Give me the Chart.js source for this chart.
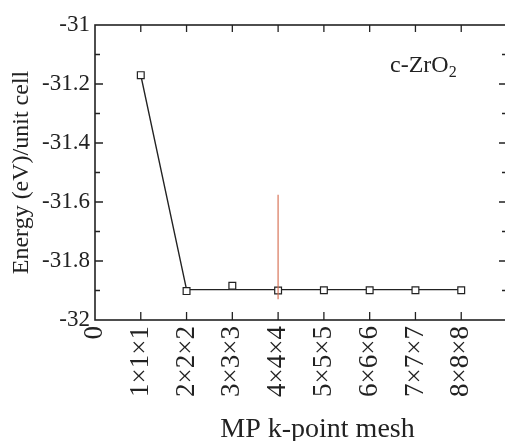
<!DOCTYPE html>
<html>
<head>
<meta charset="utf-8">
<script src="https://cdn.jsdelivr.net/npm/chart.js@4.4.1/dist/chart.umd.min.js"></script>
<style>
  html, body { margin: 0; padding: 0; overflow: hidden; background: #fff; }
  #wrap { width: 520px; height: 441px; }
</style>
</head>
<body>
<div id="wrap"><canvas id="convChart"></canvas></div>
<script>
// k-point meshes and total energies (eV per unit cell)
const meshLabels = ['1×1×1', '2×2×2', '3×3×3', '4×4×4', '5×5×5', '6×6×6', '7×7×7', '8×8×8'];
const meshIndex = [1, 2, 3, 4, 5, 6, 7, 8];
const energy = [-31.17, -31.902, -31.884, -31.9, -31.899, -31.899, -31.899, -31.899];
// connecting curve
const curveEnergy = [-31.17, -31.897, -31.897, -31.897, -31.897, -31.897, -31.897, -31.897];
// marker for the chosen mesh
const chosenMesh = [4, 4];
const chosenRange = [-31.575, -31.93];

const SERIF = "'Liberation Serif', 'Times New Roman', serif";
const INK = '#222';

const toPoints = (xs, ys) => xs.map((x, i) => ({ x: x, y: ys[i] }));

// inward ticks, box frame and the text inside/below the plot
const framePlugin = {
    id: 'frame',
    afterDraw(chart) {
        const { ctx, chartArea: a, scales } = chart;
        const x = scales.x, y = scales.y;
        ctx.save();
        ctx.strokeStyle = INK;
        ctx.lineWidth = 1.6;
        ctx.strokeRect(a.left, a.top, a.right - a.left, a.bottom - a.top);

        ctx.lineWidth = 1.3;
        ctx.beginPath();
        meshIndex.forEach(m => {
            const px = x.getPixelForValue(m);
            ctx.moveTo(px, a.bottom); ctx.lineTo(px, a.bottom - 8);
            ctx.moveTo(px, a.top); ctx.lineTo(px, a.top + 7);
        });
        for (let i = 1; i < 10; i++) {
            const v = -32 + i * 0.1;
            const py = y.getPixelForValue(v);
            const len = i % 2 === 0 ? 8 : 5;
            ctx.moveTo(a.left, py); ctx.lineTo(a.left + len, py);
            ctx.moveTo(a.right, py); ctx.lineTo(a.right - len, py);
        }
        ctx.stroke();

        // compound label
        ctx.fillStyle = INK;
        ctx.textBaseline = 'alphabetic';
        ctx.font = '24px ' + SERIF;
        const lx = a.right - 117, ly = a.top + 47;
        ctx.fillText('c-ZrO', lx, ly);
        const w = ctx.measureText('c-ZrO').width;
        ctx.font = '16px ' + SERIF;
        ctx.fillText('2', lx + w, ly + 5);

        // x axis title
        ctx.font = '28px ' + SERIF;
        ctx.textAlign = 'center';
        ctx.fillText('MP k-point mesh', a.left + (a.right - a.left) * 0.54, 437);
        ctx.restore();
    }
};

const chart = new Chart(document.getElementById('convChart'), {
    type: 'line',
    data: {
        datasets: [
            {
                label: 'chosen',
                data: toPoints(chosenMesh, chosenRange),
                borderColor: 'rgba(214, 110, 80, 0.75)',
                borderWidth: 1.5,
                pointRadius: 0,
                order: 0
            },
            {
                label: 'E',
                data: toPoints(meshIndex, energy),
                showLine: false,
                pointStyle: 'rect',
                pointRadius: 4.8,
                pointBorderWidth: 1.2,
                pointBorderColor: INK,
                pointBackgroundColor: '#fff',
                order: 1
            },
            {
                label: 'curve',
                data: toPoints(meshIndex, curveEnergy),
                borderColor: INK,
                borderWidth: 1.4,
                pointRadius: 0,
                tension: 0,
                order: 2
            }
        ]
    },
    options: {
        responsive: true,
        maintainAspectRatio: false,
        animation: false,
        layout: { padding: { top: 25, right: 13, left: 0, bottom: 0 } },
        plugins: { legend: { display: false }, tooltip: { enabled: false } },
        scales: {
            x: {
                type: 'linear',
                min: 0,
                max: 9,
                grid: { display: false, drawTicks: false },
                border: { display: false },
                afterFit: s => { s.height = 121; },
                afterBuildTicks: s => { s.ticks = [0, ...meshIndex].map(v => ({ value: v })); },
                ticks: {
                    autoSkip: false,
                    minRotation: 90,
                    maxRotation: 90,
                    padding: 6,
                    color: INK,
                    font: { family: SERIF, size: 27 },
                    callback: v => v === 0 ? '0' : (meshLabels[v - 1] || '')
                }
            },
            y: {
                min: -32,
                max: -31,
                grid: { display: false, drawTicks: false },
                border: { display: false },
                afterFit: s => { s.width = 95; },
                ticks: {
                    stepSize: 0.2,
                    padding: 5,
                    color: INK,
                    font: { family: SERIF, size: 23 },
                    callback: v => String(Number(v.toFixed(1)))
                },
                title: {
                    display: true,
                    text: 'Energy (eV)/unit cell',
                    color: INK,
                    font: { family: SERIF, size: 24 },
                    padding: { top: 7, bottom: 0 }
                }
            }
        }
    },
    plugins: [framePlugin]
});
</script>
</body>
</html>
